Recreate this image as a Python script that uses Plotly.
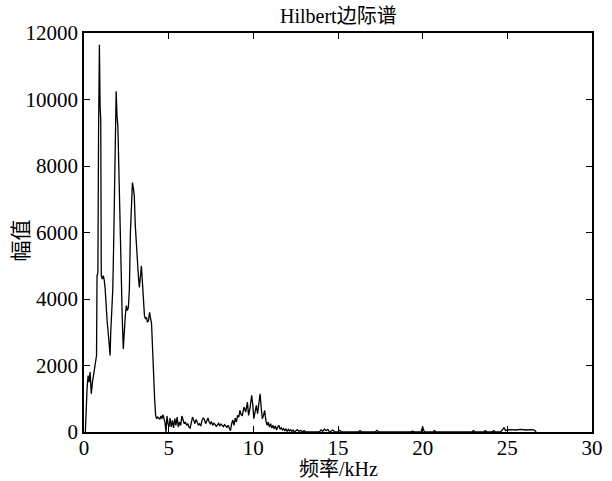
import plotly.graph_objects as go

# Hilbert marginal spectrum
freq_khz = [
    0.08, 0.12, 0.18, 0.24, 0.30, 0.36, 0.43, 0.50, 0.56, 0.63, 0.70, 0.74, 0.77, 0.82, 0.86, 0.91, 0.95, 0.99,
    1.02, 1.08, 1.14, 1.20, 1.25, 1.31, 1.37, 1.43, 1.49, 1.54, 1.58, 1.64, 1.70, 1.75, 1.80, 1.86, 1.90, 1.95,
    2.00, 2.05, 2.10, 2.15, 2.20, 2.26, 2.32, 2.38, 2.44, 2.50, 2.56, 2.62, 2.68, 2.74, 2.80, 2.86, 2.91, 2.97,
    3.03, 3.09, 3.15, 3.21, 3.27, 3.33, 3.39, 3.45, 3.51, 3.57, 3.63, 3.69, 3.75, 3.81, 3.87, 3.93, 3.99,
    4.05, 4.11, 4.17, 4.23, 4.29, 4.36, 4.42, 4.48, 4.54, 4.60, 4.66, 4.72, 4.78, 4.84, 4.90, 4.96,
    5.02, 5.08, 5.15, 5.22, 5.29, 5.36, 5.43, 5.50, 5.57, 5.64, 5.71, 5.78, 5.85, 5.92, 5.99,
    6.06, 6.13, 6.20, 6.27, 6.34, 6.41, 6.48, 6.55, 6.62, 6.69, 6.76, 6.83, 6.90, 6.97,
    7.04, 7.11, 7.18, 7.25, 7.32, 7.39, 7.46, 7.53, 7.60, 7.67, 7.74, 7.81, 7.88, 7.95,
    8.02, 8.09, 8.16, 8.23, 8.30, 8.37, 8.44, 8.51, 8.58, 8.65, 8.72, 8.79, 8.86, 8.93,
    9.00, 9.07, 9.14, 9.21, 9.28, 9.35, 9.45, 9.55, 9.65, 9.72, 9.80, 9.90, 9.97,
    10.03, 10.10, 10.18, 10.25, 10.32, 10.40, 10.47, 10.53, 10.60, 10.67, 10.74, 10.81, 10.88, 10.95,
    11.02, 11.09, 11.16, 11.23, 11.30, 11.37, 11.44, 11.51, 11.58, 11.65, 11.72, 11.79, 11.86, 11.93,
    12.00, 12.07, 12.14, 12.21, 12.28, 12.35, 12.42, 12.50, 12.60, 12.70, 12.80, 12.90, 13.00, 13.10,
    13.90, 14.00, 14.10, 14.20, 14.30, 14.40, 14.50, 14.70, 14.80, 15.00, 15.10, 15.20,
    16.20, 16.30, 16.40, 17.20, 17.30, 17.40, 19.30, 19.40, 19.50, 19.90, 20.00, 20.10,
    20.60, 20.70, 20.80, 22.90, 23.00, 23.10, 23.60, 23.70, 23.80, 24.10, 24.20, 24.30,
    24.60, 24.70, 24.80, 24.90, 25.00, 25.20, 25.50, 25.80, 26.10, 26.40, 26.60, 26.70,
]
amplitude = [
    0, 700, 1300, 1700, 1500, 1800, 1150, 1500, 1700, 2050, 2200, 2300, 4700, 4800, 9000, 11650, 9800, 9400,
    4700, 4600, 4700, 4550, 4300, 3600, 3300, 3000, 2600, 2300, 3000, 3800, 4300, 5600, 7300, 9300, 10250, 9500,
    9200, 8100, 6800, 6100, 5200, 3400, 2500, 3200, 3500, 3800, 3650, 3750, 4300, 6000, 7000, 7500, 7350, 7100,
    6200, 5600, 5200, 4700, 4350, 4700, 5000, 4500, 4100, 3500, 3400, 3450, 3300, 3350, 3600, 3450, 3250,
    2500, 1600, 1000, 500, 400, 450, 420, 380, 480, 400, 520, 420, 300, 0, 480, 250,
    150, 420, 150, 350, 120, 400, 200, 450, 150, 300, 200, 480, 350, 250, 300,
    200, 250, 150, 120, 300, 450, 350, 250, 380, 300, 200, 250, 180, 350,
    420, 380, 250, 330, 420, 300, 250, 310, 200, 260, 230, 170, 220, 260,
    180, 240, 200, 160, 220, 180, 140, 200, 100, 40, 250, 360, 200, 420,
    300, 500, 450, 650, 520, 500, 750, 600, 900, 500, 700, 1100, 800,
    400, 600, 800, 550, 900, 1150, 700, 400, 500, 650, 350, 200, 300, 150,
    250, 120, 200, 100, 180, 60, 150, 200, 80, 130, 60, 100, 40, 90,
    20, 80, 30, 70, 20, 60, 0, 40, 70, 20, 50, 0, 40, 0,
    0, 60, 20, 90, 40, 80, 0, 60, 0, 0, 50, 0,
    0, 40, 0, 0, 50, 0, 0, 30, 0, 0, 150, 0,
    0, 40, 0, 0, 40, 0, 0, 40, 0, 0, 40, 0,
    0, 60, 130, 40, 60, 70, 60, 80, 60, 70, 60, 0,
]
x_ticks = [0, 5, 10, 15, 20, 25, 30]
y_ticks = [0, 2000, 4000, 6000, 8000, 10000, 12000]

title_text = "Hilbert边际谱"
x_label = "频率/kHz"
y_label = "幅值"

serif = "Liberation Serif, Times New Roman, serif"
cjk = "Liberation Serif, Noto Sans CJK SC, serif"

fig = go.Figure()
fig.add_trace(go.Scatter(
    x=freq_khz, y=amplitude, mode="lines",
    line=dict(color="black", width=1.3),
    showlegend=False, hoverinfo="skip",
))

axis_common = dict(
    showline=True, linecolor="black", linewidth=1.5, mirror="ticks",
    ticks="inside", ticklen=6, tickwidth=1, tickcolor="black",
    showgrid=False, zeroline=False,
    tickfont=dict(family=serif, size=21, color="black"),
)
fig.update_xaxes(range=[0, 30], tickvals=x_ticks, ticktext=[str(v) for v in x_ticks],
                 ticklabelstandoff=-4, **axis_common)
fig.update_yaxes(range=[0, 12000], tickvals=y_ticks, ticktext=[str(v) for v in y_ticks], **axis_common)

fig.update_layout(
    width=612, height=481,
    margin=dict(l=84, r=20, t=33, b=49, autoexpand=False),
    paper_bgcolor="white", plot_bgcolor="white",
    annotations=[
        dict(text=title_text, x=0.5, y=1.0426, xref="paper", yref="paper",
             xanchor="center", yanchor="middle", showarrow=False,
             font=dict(family=cjk, size=20, color="black")),
        dict(text=x_label, x=0.5, y=-0.093, xref="paper", yref="paper",
             xanchor="center", yanchor="middle", showarrow=False,
             font=dict(family=cjk, size=20, color="black")),
        dict(text=y_label, x=-0.124, y=0.48, xref="paper", yref="paper",
             xanchor="center", yanchor="middle", showarrow=False, textangle=-90,
             font=dict(family=cjk, size=21, color="black")),
    ],
)

# remove the browser's default 8 px body margin so the figure sits at the page origin
fig.write_html("out.html", config={"displayModeBar": False},
               post_script="document.body.style.margin='0';")
